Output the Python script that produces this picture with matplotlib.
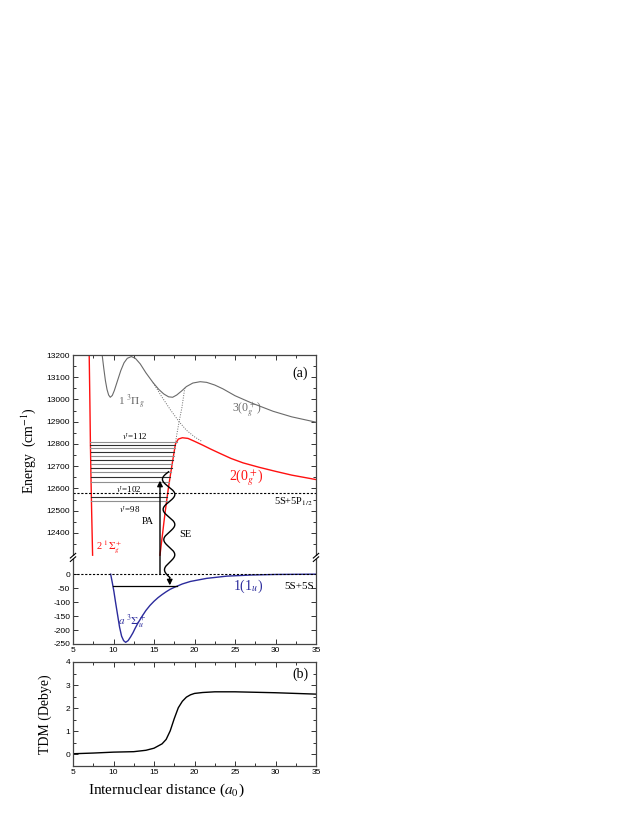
import matplotlib
matplotlib.use("Agg")
import matplotlib.pyplot as plt
import numpy as np
from matplotlib.ticker import FixedLocator, MultipleLocator, NullFormatter
from matplotlib.patches import Rectangle

plt.rcParams['font.family'] = ['Liberation Serif', 'DejaVu Serif']
plt.rcParams['mathtext.fontset'] = 'stix'

# ---------------- data ----------------
# panel (a): potential curves, R in a0, E in cm^-1
r_inner = [7.0, 7.08, 7.15, 7.22, 7.3, 7.42]
e_inner = [13200, 13000, 12800, 12650, 12500, 12300]

r_0g = [15.74, 15.9, 16.07, 16.23, 16.4, 16.58, 16.77, 16.98, 17.2, 17.42, 17.65,
        18.0, 18.5, 19.2, 20.0, 21.0, 22.0, 23.0, 24.5, 26.0, 28.0, 30.0, 32.0, 35.0]
e_0g = [12300, 12350, 12400, 12450, 12500, 12550, 12600, 12650, 12700, 12750, 12800,
        12822, 12828, 12825, 12812, 12795, 12777, 12760, 12735, 12715, 12695, 12677, 12660, 12640]

r_3g = [8.6, 8.8, 9.0, 9.2, 9.4, 9.6, 9.85, 10.1, 10.5, 10.9, 11.3, 11.7, 12.2, 12.7,
        13.3, 14.0, 14.9, 15.6, 16.2, 16.8, 17.3, 17.8, 18.4, 19.0, 19.8, 20.7, 21.5,
        22.5, 23.5, 25.0, 27.0, 29.7, 32.0, 35.0]
e_3g = [13200, 13140, 13085, 13045, 13020, 13010, 13018, 13040, 13085, 13130, 13165, 13185,
        13193, 13185, 13160, 13120, 13075, 13045, 13025, 13012, 13010, 13020, 13038, 13058,
        13074, 13080, 13077, 13065, 13048, 13017, 12985, 12947, 12922, 12898]

# diabatic (dotted) curves
r_dia1 = [14.9, 16.0, 17.0, 18.1, 19.0, 20.0, 20.9]
e_dia1 = [13075, 13010, 12955, 12900, 12862, 12832, 12812]
r_dia2 = [18.8, 18.45, 18.1, 17.85, 17.65]
e_dia2 = [13052, 12965, 12900, 12850, 12805]

r_a3 = [9.65, 9.85, 10.05, 10.25, 10.5, 10.75, 11.0, 11.25, 11.5, 11.8, 12.1, 12.4, 12.65,
        13.0, 13.5, 14.0, 14.5, 15.0, 15.5, 16.0, 16.5, 17.0, 17.6, 18.5, 19.5, 21.5,
        24.0, 27.0, 30.0, 35.0]
e_a3 = [0, -30, -62, -100, -145, -190, -222, -238, -244, -238, -225, -210, -195,
        -176, -152, -130, -112, -97, -84, -73, -63, -54, -46, -35, -26, -15,
        -7, -3, -1, 0]

levels_up = [12810, 12797, 12781, 12765, 12748, 12730, 12712, 12693, 12673, 12651, 12628,
             12563, 12544]
level_ground = -43
asym_p = 12578
asym_s = 0

pa_r, pa_top = 15.74, 12635
se_top = (16.8, 12675)
se_tip = (16.95, -40)

# panel (b): transition dipole moment
r_tdm = [5, 7.5, 10, 12.5, 14, 15, 16, 16.5, 17, 17.5, 18, 18.5, 19, 19.5, 20, 21, 22.5,
         25, 27.5, 30, 32.5, 35]
tdm = [0.03, 0.06, 0.1, 0.12, 0.18, 0.27, 0.46, 0.65, 1.02, 1.55, 2.02, 2.3, 2.48, 2.58,
       2.64, 2.68, 2.71, 2.71, 2.69, 2.67, 2.64, 2.61]

red = '#ff1010'
gray = '#6a6a6a'
blue = '#2b2b9c'

# ---------------- broken y scale for panel (a) ----------------
Y_LO, Y_HI = 60.0, 12290.0
S_LO, S_HI = 0.28, 0.223
EPS = 1e-7


def fwd(y):
    y = np.asarray(y, float)
    lo = S_LO * y
    gap = S_LO * Y_LO + EPS * (y - Y_LO)
    hi = S_LO * Y_LO + EPS * (Y_HI - Y_LO) + S_HI * (y - Y_HI)
    return np.where(y <= Y_LO, lo, np.where(y >= Y_HI, hi, gap))


def inv(u):
    u = np.asarray(u, float)
    u_lo = S_LO * Y_LO
    u_hi = u_lo + EPS * (Y_HI - Y_LO)
    return np.where(u <= u_lo, u / S_LO,
                    np.where(u >= u_hi, Y_HI + (u - u_hi) / S_HI, Y_LO + (u - u_lo) / EPS))


W, H = 638, 825
fig = plt.figure(figsize=(W / 100, H / 100), dpi=100)
ax = fig.add_axes([73 / W, 1 - 644 / H, 243 / W, 289 / H])
axb = fig.add_axes([73 / W, 1 - 766 / H, 243 / W, 104 / H])

ax.set_yscale('function', functions=(fwd, inv))
ax.set_xlim(5, 35)
ax.set_ylim(-250, 13200)

# curves
ax.plot(r_inner, e_inner, color=red, lw=1.0)
ax.plot(r_0g, e_0g, color=red, lw=1.0)
ax.plot(r_3g, e_3g, color=gray, lw=0.8)
ax.plot(r_dia1, e_dia1, color=gray, lw=0.7, ls=(0, (1, 1.5)))
ax.plot(r_dia2, e_dia2, color=gray, lw=0.7, ls=(0, (1, 1.5)))
ax.plot(r_a3, e_a3, color=blue, lw=1.0)

# vibrational levels between the walls
i_peak = int(np.argmax(e_0g))
for k, e in enumerate(levels_up):
    x0 = np.interp(e, e_inner[::-1], r_inner[::-1])
    x1 = np.interp(e, e_0g[:i_peak + 1], r_0g[:i_peak + 1])
    ax.plot([x0, x1], [e, e], color='#909090' if k % 2 == 0 else '#303030', lw=0.8)

i_min = int(np.argmin(e_a3))
g0 = np.interp(level_ground, e_a3[:i_min + 1][::-1], r_a3[:i_min + 1][::-1])
g1 = np.interp(level_ground, e_a3[i_min:], r_a3[i_min:])
ax.plot([g0, g1], [level_ground, level_ground], color='k', lw=0.9)

# asymptotes
ax.axhline(asym_p, color='k', lw=0.8, ls=(0, (2, 1.5)))
ax.axhline(asym_s, color='k', lw=0.8, ls=(0, (2, 1.5)))

# PA arrow
ax.annotate('', xy=(pa_r, pa_top), xytext=(pa_r, 0),
            arrowprops=dict(arrowstyle='-|>', color='k', lw=1.0, mutation_scale=8,
                            shrinkA=0, shrinkB=0))

# SE wavy arrow, drawn in axes fraction
to_ax = ax.transData + ax.transAxes.inverted()
(sx0, sy0), (sx1, sy1) = to_ax.transform([se_top, se_tip])
t = np.linspace(0, 1, 400)
ts = t * 0.93
wx = sx0 + (sx1 - sx0) * ts - 0.026 * np.sin(2 * np.pi * 3.5 * t) * (1 - 0.2 * t)
wy = sy0 + (sy1 - sy0) * ts
ax.plot(wx, wy, color='k', lw=1.0, transform=ax.transAxes)
ax.annotate('', xy=(sx1, sy1), xytext=(wx[-1], wy[-1]), xycoords='axes fraction',
            textcoords='axes fraction',
            arrowprops=dict(arrowstyle='-|>', color='k', lw=1.0, mutation_scale=8,
                            shrinkA=0, shrinkB=0))

# labels
ax.text(0.967, 0.938, '(a)', transform=ax.transAxes, ha='right', va='center', fontsize=10)
ax.text(10.5, 12985, r'1 $^3\Pi_g$', color=gray, fontsize=8, va='center')
ax.text(24.6, 12950, r'3(0$_g^+$)', color=gray, fontsize=8.5, va='center')
ax.text(11.1, 12836, r"$v$'=112", fontsize=6.5, va='center')
ax.text(10.3, 12598, r"$v$'=102", fontsize=6.5, va='center')
ax.text(10.7, 12508, r"$v$'=98", fontsize=6.5, va='center')
ax.text(13.5, 12452, 'PA', fontsize=7.5, va='center')
ax.text(18.1, 12393, 'SE', fontsize=7.5, va='center')
ax.text(7.9, 12335, r'2 $^1\Sigma_g^+$', color=red, fontsize=7.5, va='center')
ax.text(24.3, 12648, r'2(0$_g^+$)', color=red, fontsize=10, va='center')
ax.text(34.7, 12540, r'5S+5P$_{1/2}$', fontsize=7.5, va='center', ha='right')
ax.text(24.7, -45, r'1(1$_u$)', color=blue, fontsize=10, va='center')
ax.text(34.7, -43, '5S+5S', fontsize=8, va='center', ha='right')
ax.text(10.5, -170, r'$a$ $^3\Sigma_u^+$', color=blue, fontsize=8, va='center')

ax.set_ylabel(r'Energy  (cm$^{-1}$)', fontsize=10)
ax.yaxis.set_label_coords(-0.145, 0.67)

# ticks
lower_ticks = [-250, -200, -150, -100, -50, 0]
upper_ticks = [12400, 12500, 12600, 12700, 12800, 12900, 13000, 13100, 13200]
ax.yaxis.set_major_locator(FixedLocator(lower_ticks + upper_ticks))
ax.yaxis.set_minor_locator(FixedLocator([12350, 12450, 12550, 12650, 12750, 12850,
                                         12950, 13050, 13150]))
ax.yaxis.set_major_formatter(plt.FuncFormatter(lambda v, p: '%d' % round(v)))
ax.yaxis.set_minor_formatter(NullFormatter())

for a in (ax, axb):
    a.xaxis.set_major_locator(MultipleLocator(5))
    a.xaxis.set_minor_locator(MultipleLocator(2.5))
    a.tick_params(which='both', direction='in', top=True, right=True, width=0.7,
                  labelsize=6, pad=2, labelfontfamily='Liberation Sans', color='#333333')
    a.tick_params(which='major', length=3.5)
    a.tick_params(which='minor', length=2)
    for s in a.spines.values():
        s.set_linewidth(0.9)
        s.set_color('#444444')

# break marks on both spines
yb = float((fwd(Y_LO) - fwd(-250)) / (fwd(13200) - fwd(-250)))
dx, dy, off = 0.022, 0.016, 0.012
for xs in (0.0, 1.0):
    ax.add_patch(Rectangle((xs - 0.01, yb - off / 2), 0.02, off, transform=ax.transAxes,
                           facecolor='white', edgecolor='none', clip_on=False, zorder=5))
    for o in (-off / 2, off / 2):
        ax.plot([xs - dx / 2, xs + dx / 2], [yb + o - dy / 2, yb + o + dy / 2],
                color='k', lw=0.8, transform=ax.transAxes, clip_on=False, zorder=6)

# ---------------- panel (b) ----------------
axb.plot(r_tdm, tdm, color='k', lw=1.0)
axb.set_xlim(5, 35)
axb.set_ylim(-0.5, 4)
axb.yaxis.set_major_locator(MultipleLocator(1))
axb.yaxis.set_minor_locator(MultipleLocator(0.5))
axb.text(0.971, 0.885, '(b)', transform=axb.transAxes, ha='right', va='center', fontsize=10)
axb.set_ylabel('TDM (Debye)', fontsize=10)
axb.yaxis.set_label_coords(-0.085, 0.5)
axb.set_xlabel(r'Internuclear distance ($a_0$)', fontsize=11)
axb.xaxis.set_label_coords(0.383, -0.15)

fig.savefig('out.png', dpi=100)
